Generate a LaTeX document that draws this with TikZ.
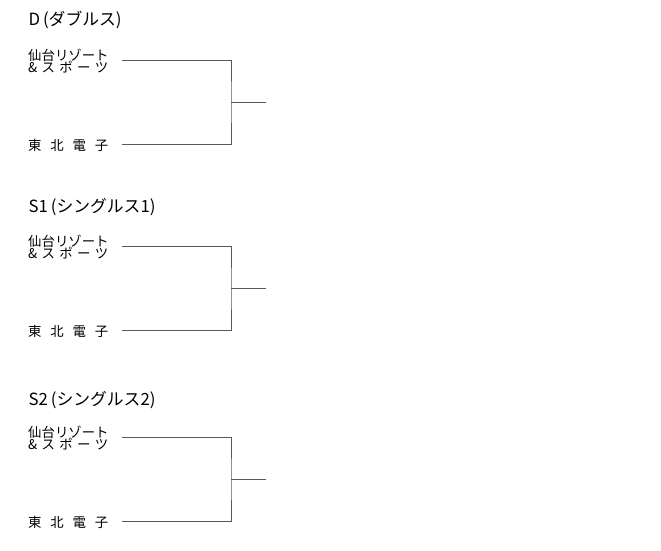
\documentclass[tikz,border=0pt]{standalone}
\usepackage{fontspec}
\setmainfont{Noto Sans CJK JP}
\usetikzlibrary{positioning}
\newcommand{\spread}[2]{\makebox[#1][s]{#2}}

\begin{document}
\begin{tikzpicture}[x=1pt,y=-1pt,
    bracket/.style={draw=black!65,line width=0.8pt},
    title/.style={anchor=west,inner sep=0pt,font=\fontsize{16.8}{17}\selectfont},
    team/.style={anchor=west,inner sep=0pt,font=\fontsize{13.4}{13}\selectfont}]
  \useasboundingbox (0,0) rectangle (661,550);
  \foreach \m/\y/\ty/\t in {d/0/20/D\,(ダブルス), s1/186.5/207/S1\,(シングルス1), s2/377.5/400/S2\,(シングルス2)} {
    \node[title] (\m-title) at (28.5,\ty) {\t};
    \node[team] (\m-top) at (28,55+\y) {仙台リゾート};
    \node[team] (\m-topb) at (28,67+\y) {\spread{80pt}{\& ス ポ ー ツ}};
    \node[team] (\m-bot) at (28,145+\y) {\spread{80pt}{東 北 電 子}};
    \coordinate (\m-a) at (121.5,60+\y);
    \coordinate (\m-b) at (121.5,144+\y);
    \coordinate (\m-j) at (231,102+\y);
    \coordinate (\m-w) at (266,102+\y);
    \draw[bracket] (\m-a) -| (\m-j) |- (\m-b);
    \draw[bracket] (\m-j) -- (\m-w);
  }
\end{tikzpicture}
\end{document}
